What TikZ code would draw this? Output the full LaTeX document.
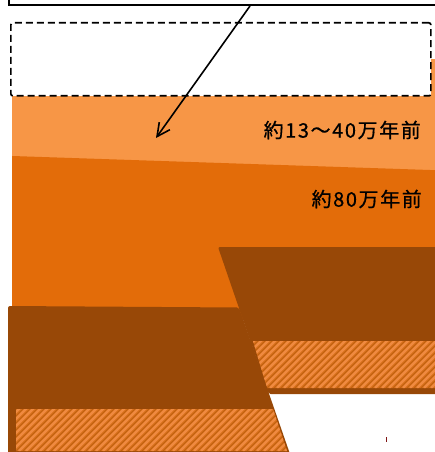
\documentclass[tikz,border=0pt]{standalone}
\usepackage{fontspec}
\usepackage{xcolor}
\usepackage{tikz}
\usetikzlibrary{arrows.meta}
\newfontfamily\jpfont[FakeBold=0.6, LetterSpace=8]{Noto Sans CJK JP}

\definecolor{lightorange}{HTML}{F79646}
\definecolor{darkorange}{HTML}{E36C09}
\definecolor{rockbrown}{HTML}{984807}
\definecolor{weavebase}{HTML}{D9711C}
\definecolor{weavelight}{HTML}{EF8A40}
\definecolor{weavedark}{HTML}{C0600F}
\definecolor{tickred}{HTML}{7F1414}

\tikzset{
    notebox/.style = {draw=black, fill=white, line width=1.5bp, inner sep=0pt},
    planbox/.style = {draw=black, fill=white, line width=1.7bp, dash pattern=on 7bp off 4bp, rounded corners=2bp, inner sep=0pt},
    pointer/.style = {-{Straight Barb[length=13bp,width=13bp]}, line width=1.6bp, black},
    agelabel/.style = {inner sep=0pt, text=black, font=\jpfont\fontsize{20bp}{22bp}\selectfont},
    rock/.style = {fill=rockbrown, rounded corners=2bp},
    weave/.style = {fill=weavebase, path picture={
        \foreach \s in {0,7,...,364} {
            \draw[weavelight, line width=2.2bp] ([xshift=\s bp-60bp]path picture bounding box.south west) -- ++(60bp,60bp);
            \draw[weavedark, line width=1bp] ([xshift=\s bp-56bp]path picture bounding box.south west) -- ++(60bp,60bp);
        }
    }}
}

\begin{document}
\begin{tikzpicture}[x=1bp, y=-1bp]
    \useasboundingbox (0,0) rectangle (435,452);

    % strata
    \fill[lightorange] (12,59) rectangle (445,175);
    \fill[darkorange] (12,156) -- (445,170.5) -- (445,320) -- (12,320) -- cycle;

    % right block
    \path[rock] (218,247) -- (445,247) -- (445,394) -- (268.5,394) -- cycle;
    \path[weave] (253,341) -- (445,341) -- (445,388) -- (267,388) -- cycle;

    % left block
    \path[rock] (8,306) -- (239,307.5) -- (290,454) -- (8,454) -- cycle;
    \path[weave] (16,409) -- (273,409) -- (287,451) -- (16,451) -- cycle;

    \draw[tickred, line width=1bp] (386,437) -- (386,442);

    % boxes and arrow
    \node[planbox, anchor=north west, minimum width=420bp, minimum height=73bp] (plan) at (10,22) {};
    \node[notebox, anchor=south west, minimum width=440bp, minimum height=30bp] (note) at (8,6) {};
    \coordinate (tip) at (156,138);
    \draw[pointer] ([xshift=242bp]note.south west) -- (tip);

    \node[agelabel, anchor=east] (young) at (421,130) {約13～40万年前};
    \node[agelabel, anchor=east] (old) at (422,199) {約80万年前};
\end{tikzpicture}
\end{document}
